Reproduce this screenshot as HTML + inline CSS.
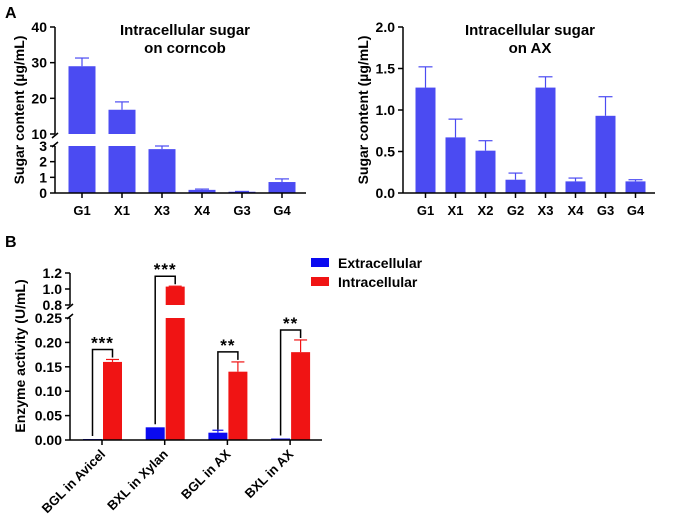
<!DOCTYPE html>
<html><head><meta charset="utf-8"><style>
html,body{margin:0;padding:0;background:#fff;}
svg{display:block;font-family:"Liberation Sans",sans-serif;font-weight:bold;}
</style></head><body>
<svg id="s" width="695" height="531" viewBox="0 0 695 531" xmlns="http://www.w3.org/2000/svg"></svg>
<script>
// Panel A1 data
const a1Cats=["G1","X1","X3","X4","G3","G4"];
const a1Vals=[29,16.8,2.8,0.2,0.08,0.7];
const a1Errs=[2.3,2.2,0.2,0.05,0.02,0.2];
const a1TicksLow=[0,1,2,3];
const a1TicksHigh=[10,20,30,40];
// Panel A2 data
const a2Cats=["G1","X1","X2","G2","X3","X4","G3","G4"];
const a2Vals=[1.27,0.67,0.51,0.16,1.27,0.14,0.93,0.14];
const a2Errs=[0.25,0.22,0.12,0.08,0.13,0.04,0.23,0.02];
const a2Ticks=[0,0.5,1.0,1.5,2.0];
// Panel B data
const bCats=["BGL in Avicel","BXL in Xylan","BGL in AX","BXL in AX"];
const bExtra=[0.002,0.026,0.015,0.003];
const bExtraErr=[0,0,0.005,0];
const bIntra=[0.16,1.03,0.14,0.18];
const bIntraErr=[0.005,0.005,0.02,0.025];
const bSig=["***","***","**","**"];
const bTicksLow=[0,0.05,0.10,0.15,0.20,0.25];
const bTicksHigh=[0.8,1.0,1.2];

const S=document.getElementById('s');
const NS="http://www.w3.org/2000/svg";
const TF=14;
function el(tag,attrs,parent,text){const e=document.createElementNS(NS,tag);for(const k in attrs)e.setAttribute(k,attrs[k]);if(text!==undefined)e.textContent=text;(parent||S).appendChild(e);return e;}
function grp(name){const g=el('g',{});return g;}
function brokenY(v,lo,hi){ if(v<=lo.d[1]) return lo.r[0]+(v-lo.d[0])/(lo.d[1]-lo.d[0])*(lo.r[1]-lo.r[0]); return hi.r[0]+(v-hi.d[0])/(hi.d[1]-hi.d[0])*(hi.r[1]-hi.r[0]); }

const BLUE_A="#4b4bf2";
// ---------- Panel A1 ----------
(function(){
 const g=grp('chart-a-corncob');
 const lo={d:[0,3],r:[193,146]}, hi={d:[10,40],r:[134,27]};
 const ax=55, xEnd=306;
 const xc=i=>82+i*40;
 const t=el('text',{x:5,y:18,'font-size':16},g,'A');
 const tt=el('text',{x:185,y:35,'font-size':15,'text-anchor':'middle'},g,'Intracellular sugar');
 el('text',{x:185,y:53,'font-size':15,'text-anchor':'middle'},g,'on corncob');
 a1Vals.forEach((v,i)=>{
  const x=xc(i)-13.5,w=27;
  if(v>lo.d[1]){
   let r=el('rect',{x:x,y:lo.r[1],width:w,height:lo.r[0]-lo.r[1],fill:BLUE_A},g);
   let yt=brokenY(v,lo,hi);
   r=el('rect',{x:x,y:yt,width:w,height:hi.r[0]-yt,fill:BLUE_A},g);
  } else {
   let yt=brokenY(v,lo,hi);
   const r=el('rect',{x:x,y:yt,width:w,height:lo.r[0]-yt,fill:BLUE_A},g);
  }
  const ye=brokenY(v+a1Errs[i],lo,hi), yb=brokenY(v,lo,hi);
  el('line',{x1:xc(i),x2:xc(i),y1:ye,y2:yb,stroke:BLUE_A,'stroke-width':1.2},g);
  el('line',{x1:xc(i)-7,x2:xc(i)+7,y1:ye,y2:ye,stroke:BLUE_A,'stroke-width':1.2},g);
  const lb=el('text',{x:xc(i),y:215,'font-size':13,'text-anchor':'middle'},g,a1Cats[i]);
  el('line',{x1:xc(i),x2:xc(i),y1:193,y2:198,stroke:'#000','stroke-width':1.5},g);
 });
 el('line',{x1:ax,x2:ax,y1:193,y2:146,stroke:'#000','stroke-width':1.5},g);
 el('line',{x1:ax,x2:ax,y1:134,y2:27,stroke:'#000','stroke-width':1.5},g);
 el('line',{x1:ax-3,x2:ax+3,y1:147,y2:142,stroke:'#000','stroke-width':1.5},g);
 el('line',{x1:ax-3,x2:ax+3,y1:138,y2:133,stroke:'#000','stroke-width':1.5},g);
 el('line',{x1:ax,x2:xEnd,y1:193,y2:193,stroke:'#000','stroke-width':1.5},g);
 a1TicksLow.concat(a1TicksHigh).forEach(v=>{const y=brokenY(v,lo,hi);el('line',{x1:ax-5,x2:ax,y1:y,y2:y,stroke:'#000','stroke-width':1.5},g);el('text',{x:ax-8,y:y+5,'font-size':TF,'text-anchor':'end'},g,v);});
 const yt=el('text',{x:0,y:0,'font-size':14,'text-anchor':'middle',transform:'translate(24,110) rotate(-90)'},g,'Sugar content (µg/mL)');
})();

// ---------- Panel A2 ----------
(function(){
 const g=grp('chart-a-ax');
 const ax=403,xEnd=655, y0=193,y1=27, vmax=2;
 const ys=v=>y0-(v/vmax)*(y0-y1);
 const xc=i=>425.5+i*30;
 el('text',{x:530,y:35,'font-size':15,'text-anchor':'middle'},g,'Intracellular sugar');
 el('text',{x:530,y:53,'font-size':15,'text-anchor':'middle'},g,'on AX');
 a2Vals.forEach((v,i)=>{
  const r=el('rect',{x:xc(i)-10,y:ys(v),width:20,height:y0-ys(v),fill:BLUE_A},g);
  const ye=ys(v+a2Errs[i]);
  el('line',{x1:xc(i),x2:xc(i),y1:ye,y2:ys(v),stroke:BLUE_A,'stroke-width':1.2},g);
  el('line',{x1:xc(i)-7,x2:xc(i)+7,y1:ye,y2:ye,stroke:BLUE_A,'stroke-width':1.2},g);
  el('line',{x1:xc(i),x2:xc(i),y1:y0,y2:y0+5,stroke:'#000','stroke-width':1.5},g);
  el('text',{x:xc(i),y:215,'font-size':13,'text-anchor':'middle'},g,a2Cats[i]);
 });
 el('line',{x1:ax,x2:ax,y1:y0,y2:y1,stroke:'#000','stroke-width':1.5},g);
 el('line',{x1:ax,x2:xEnd,y1:y0,y2:y0,stroke:'#000','stroke-width':1.5},g);
 a2Ticks.forEach(v=>{const y=ys(v);el('line',{x1:ax-5,x2:ax,y1:y,y2:y,stroke:'#000','stroke-width':1.5},g);el('text',{x:ax-8,y:y+5,'font-size':TF,'text-anchor':'end'},g,v.toFixed(1));});
 el('text',{x:0,y:0,'font-size':14,'text-anchor':'middle',transform:'translate(368,110) rotate(-90)'},g,'Sugar content (µg/mL)');
})();

// ---------- Panel B ----------
(function(){
 const g=grp('chart-b-enzyme');
 const lo={d:[0,0.25],r:[440,318]}, hi={d:[0.8,1.2],r:[305,273]};
 const ax=70,xEnd=322;
 const xc=i=>102+i*62.7;
 const BL="#0a0af0", RD="#f01414";
 el('text',{x:5,y:247,'font-size':16},g,'B');
 bCats.forEach((c,i)=>{
  let yb=brokenY(bExtra[i],lo,hi);
  let r=el('rect',{x:xc(i)-19,y:yb,width:19,height:440-yb,fill:BL},g);
  if(bExtraErr[i]>0){const ye=brokenY(bExtra[i]+bExtraErr[i],lo,hi);el('line',{x1:xc(i)-9.5,x2:xc(i)-9.5,y1:ye,y2:yb,stroke:BL,'stroke-width':1.2},g);el('line',{x1:xc(i)-15,x2:xc(i)-4,y1:ye,y2:ye,stroke:BL,'stroke-width':1.2},g);}
  const v=bIntra[i];
  if(v>lo.d[1]){
   r=el('rect',{x:xc(i)+1,y:lo.r[1],width:19,height:lo.r[0]-lo.r[1],fill:RD},g);
   const yt=brokenY(v,lo,hi);
   r=el('rect',{x:xc(i)+1,y:yt,width:19,height:hi.r[0]-yt,fill:RD},g);
  } else {
   const yt=brokenY(v,lo,hi);
   r=el('rect',{x:xc(i)+1,y:yt,width:19,height:440-yt,fill:RD},g);
  }
  
  const yv=brokenY(v,lo,hi), ye=brokenY(v+bIntraErr[i],lo,hi);
  el('line',{x1:xc(i)+10.5,x2:xc(i)+10.5,y1:ye,y2:yv,stroke:RD,'stroke-width':1.2},g);
  el('line',{x1:xc(i)+4,x2:xc(i)+17,y1:ye,y2:ye,stroke:RD,'stroke-width':1.2},g);
  const top=Math.min(ye,yv)-10, xl=xc(i)-9.5, xr=xc(i)+10.5;
  const p=el('path',{d:`M${xl},${yb-3} L${xl},${top} L${xr},${top} L${xr},${ye-2}`,fill:'none',stroke:'#000','stroke-width':1.5},g);
  el('text',{x:(xl+xr)/2,y:top-1,'font-size':17,'letter-spacing':1,'text-anchor':'middle'},g,bSig[i]);
  el('line',{x1:xc(i),x2:xc(i),y1:440,y2:445,stroke:'#000','stroke-width':1.5},g);
  const lb=el('text',{x:0,y:0,'font-size':13,'text-anchor':'end',transform:`translate(${xc(i)+4},${455}) rotate(-45)`},g,c);
 });
 el('line',{x1:ax,x2:ax,y1:440,y2:318,stroke:'#000','stroke-width':1.5},g);
 el('line',{x1:ax,x2:ax,y1:305,y2:273,stroke:'#000','stroke-width':1.5},g);
 el('line',{x1:ax-3,x2:ax+3,y1:319,y2:314,stroke:'#000','stroke-width':1.5},g);
 el('line',{x1:ax-3,x2:ax+3,y1:309,y2:304,stroke:'#000','stroke-width':1.5},g);
 el('line',{x1:ax,x2:xEnd,y1:440,y2:440,stroke:'#000','stroke-width':1.5},g);
 bTicksLow.forEach(v=>{const y=brokenY(v,lo,hi);el('line',{x1:ax-5,x2:ax,y1:y,y2:y,stroke:'#000','stroke-width':1.5},g);el('text',{x:ax-8,y:y+5,'font-size':TF,'text-anchor':'end'},g,v.toFixed(2));});
 bTicksHigh.forEach(v=>{const y=brokenY(v,lo,hi);el('line',{x1:ax-5,x2:ax,y1:y,y2:y,stroke:'#000','stroke-width':1.5},g);el('text',{x:ax-8,y:y+5,'font-size':TF,'text-anchor':'end'},g,v.toFixed(1));});
 const yt=el('text',{x:0,y:0,'font-size':14,'text-anchor':'middle',transform:'translate(25,356) rotate(-90)'},g,'Enzyme activity (U/mL)');
 const lg=grp('legend');
 el('rect',{x:311,y:258,width:18,height:9,fill:BL},lg);
 let t=el('text',{x:338,y:268,'font-size':14},lg,'Extracellular');
 el('rect',{x:311,y:277,width:18,height:9,fill:RD},lg);
 t=el('text',{x:338,y:287,'font-size':14},lg,'Intracellular');
})();
</script>
</body></html>
